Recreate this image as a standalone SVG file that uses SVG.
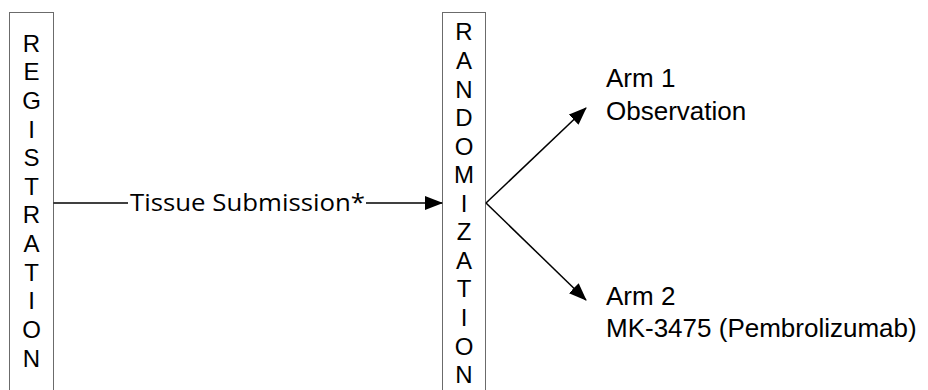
<svg xmlns="http://www.w3.org/2000/svg" width="928" height="390" viewBox="0 0 928 390">
<style>
.box{fill:#fff;stroke:#6b6b6b;stroke-width:1}
.v{font-family:"Liberation Sans",Arial,sans-serif;font-size:24px;fill:#000;text-anchor:middle}
.arm{font-family:"Liberation Sans",Arial,sans-serif;font-size:26px;fill:#000}
.lbl{font-family:"Open Sans","Noto Sans",sans-serif;font-size:24px;fill:#000}
.ln{stroke:#000;stroke-width:1.5;fill:none}
</style>
<defs>
<marker id="ah" markerWidth="18" markerHeight="14" refX="17" refY="7" orient="auto" markerUnits="userSpaceOnUse">
<path d="M0,0 L18,7 L0,14 Z" fill="#000"/>
</marker>
</defs>
<rect width="928" height="390" fill="#fff"/>
<g id="registration">
<rect class="box" x="9.5" y="12.5" width="44" height="400"/>
<text class="v" x="31.5" y="51.5">R</text>
<text class="v" x="31.5" y="80.2">E</text>
<text class="v" x="31.5" y="108.8">G</text>
<text class="v" x="31.5" y="137.5">I</text>
<text class="v" x="31.5" y="166.1">S</text>
<text class="v" x="31.5" y="194.8">T</text>
<text class="v" x="31.5" y="223.4">R</text>
<text class="v" x="31.5" y="252.1">A</text>
<text class="v" x="31.5" y="280.7">T</text>
<text class="v" x="31.5" y="309.4">I</text>
<text class="v" x="31.5" y="338">O</text>
<text class="v" x="31.5" y="366.7">N</text>
</g>
<g id="randomization">
<rect class="box" x="442.5" y="12.5" width="43" height="400"/>
<text class="v" x="464" y="40.4">R</text>
<text class="v" x="464" y="69">A</text>
<text class="v" x="464" y="97.5">N</text>
<text class="v" x="464" y="126">D</text>
<text class="v" x="464" y="154.6">O</text>
<text class="v" x="464" y="183.2">M</text>
<text class="v" x="464" y="211.7">I</text>
<text class="v" x="464" y="240.3">Z</text>
<text class="v" x="464" y="268.8">A</text>
<text class="v" x="464" y="297.4">T</text>
<text class="v" x="464" y="325.9">I</text>
<text class="v" x="464" y="354.5">O</text>
<text class="v" x="464" y="383">N</text>
</g>
<g id="arm1">
<text class="arm" x="606" y="87">Arm 1</text>
<text class="arm" x="606" y="120">Observation</text>
</g>
<g id="arm2">
<text class="arm" x="606" y="305">Arm 2</text>
<text class="arm" x="606" y="337">MK-3475 (Pembrolizumab)</text>
</g>
<g id="connectors">
<line class="ln" x1="53.5" y1="203" x2="128" y2="203"/>
<text class="lbl" x="130" y="211" textLength="235" lengthAdjust="spacingAndGlyphs">Tissue Submission*</text>
<line class="ln" x1="366" y1="203" x2="442" y2="203" marker-end="url(#ah)"/>
<line class="ln" x1="486" y1="203" x2="586" y2="108" marker-end="url(#ah)"/>
<line class="ln" x1="486" y1="203" x2="586" y2="300" marker-end="url(#ah)"/>
</g>
</svg>
